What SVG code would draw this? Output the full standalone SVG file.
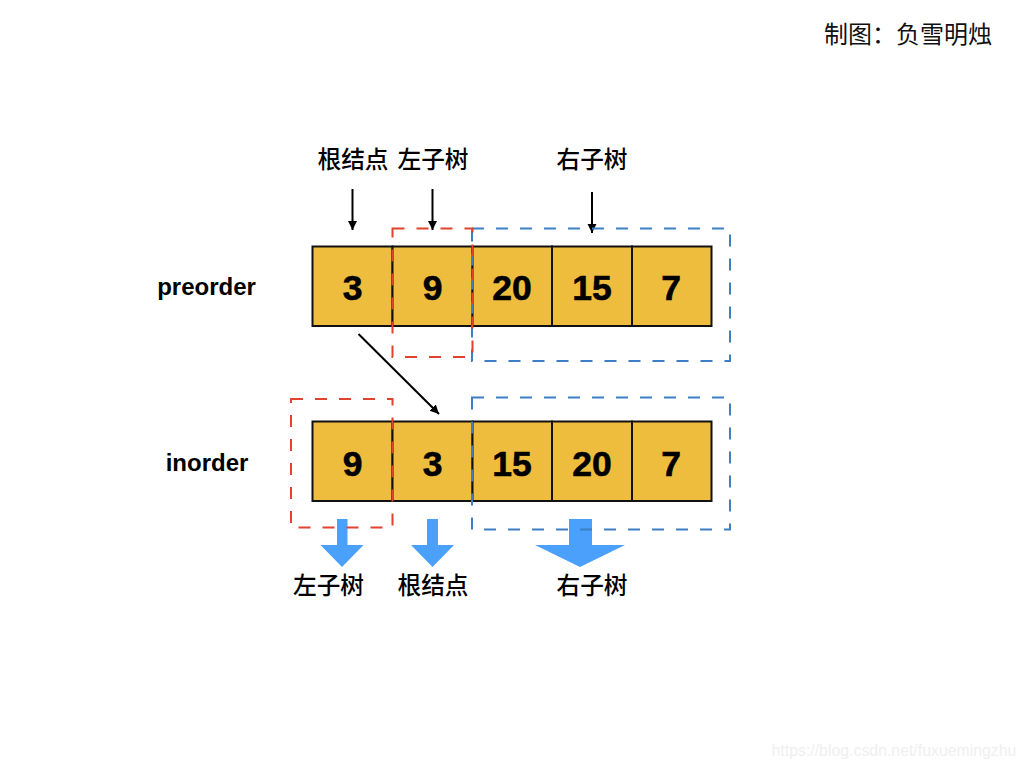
<svg xmlns="http://www.w3.org/2000/svg" width="1024" height="768" viewBox="0 0 1024 768">
<style>
.cell{fill:#eebd3e;stroke:#111;stroke-width:2}
.num{font:bold 35.500px "Liberation Sans",Arial,sans-serif;text-anchor:middle;fill:#000;stroke:#000;stroke-width:.6}
.lab{font:bold 24px "Liberation Sans",Arial,sans-serif;text-anchor:middle;fill:#000}
.cjk{font:500 23.700px "Noto Sans CJK SC","Noto Sans CJK JP",sans-serif;text-anchor:middle;fill:#000}
.red{fill:none;stroke:#e0432f;stroke-width:2;stroke-dasharray:12 12}
.blue{fill:none;stroke:#3d7fc4;stroke-width:2;stroke-dasharray:12 12}
.blk{fill:none;stroke:#000;stroke-width:2;marker-end:url(#ah)}
.fat{fill:#4aa0fb}
</style>
<defs><marker id="ah" markerUnits="userSpaceOnUse" markerWidth="10" markerHeight="10" refX="9" refY="4.5" orient="auto"><path d="M0 0L9 4.5L0 9Z" fill="#000"/></marker></defs>
<rect width="1024" height="768" fill="#fff"/>
<g id="title"><text x="908" y="42.500" style="font:400 24px 'Noto Sans CJK SC','Noto Sans CJK JP',sans-serif;text-anchor:middle;fill:#111">制图：负雪明烛</text></g>
<g id="row-labels"><text class="lab" x="206.500" y="295">preorder</text><text class="lab" x="207" y="471">inorder</text></g>
<g id="top-labels"><text class="cjk" x="353" y="168">根结点</text><text class="cjk" x="433" y="168">左子树</text><text class="cjk" x="592" y="168">右子树</text></g>
<g id="bottom-labels"><text class="cjk" x="328.500" y="594">左子树</text><text class="cjk" x="433" y="594">根结点</text><text class="cjk" x="592" y="594">右子树</text></g>
<g id="preorder">
<rect class="cell" x="312.500" y="246.500" width="80" height="79.500"/><rect class="cell" x="392.500" y="246.500" width="80" height="79.500"/><rect class="cell" x="472.500" y="246.500" width="79.500" height="79.500"/><rect class="cell" x="552" y="246.500" width="80" height="79.500"/><rect class="cell" x="632" y="246.500" width="79.500" height="79.500"/>
<text class="num" x="352.500" y="300">3</text><text class="num" x="432.500" y="300">9</text><text class="num" x="512" y="300">20</text><text class="num" x="592" y="300">15</text><text class="num" x="671" y="300">7</text>
</g>
<g id="inorder">
<rect class="cell" x="312.500" y="421.500" width="80" height="79.500"/><rect class="cell" x="392.500" y="421.500" width="80" height="79.500"/><rect class="cell" x="472.500" y="421.500" width="79.500" height="79.500"/><rect class="cell" x="552" y="421.500" width="80" height="79.500"/><rect class="cell" x="632" y="421.500" width="79.500" height="79.500"/>
<text class="num" x="352.500" y="476">9</text><text class="num" x="432.500" y="476">3</text><text class="num" x="512" y="476">15</text><text class="num" x="592" y="476">20</text><text class="num" x="671" y="476">7</text>
</g>
<g id="fat-arrows">
<path class="fat" d="M337 519H347.500V545H363.500L342 567L320.500 545H337Z"/>
<path class="fat" d="M427 519H438V545H454L432.500 567L411 545H427Z"/>
<path class="fat" d="M569 519H592V545H625L580 567L535 545H569Z"/>
</g>
<g id="connectors">
<path class="blk" d="M352.500 189V230"/>
<path class="blk" d="M432.500 189V230"/>
<path class="blk" d="M592 192V233"/>
<path class="blk" d="M358.500 334L439 414"/>
</g>
<g id="regions">
<rect class="blue" x="472" y="228.500" width="258" height="132.500"/>
<rect class="red" x="392.500" y="228.500" width="80" height="128.500"/>
<rect class="red" x="291" y="399" width="101.500" height="128.500"/>
<rect class="blue" x="472" y="397.500" width="258" height="132"/>
</g>
<g id="watermark"><text x="894" y="756" style="font:15.850px 'Liberation Sans',Arial,sans-serif;text-anchor:middle;fill:#efefef">https://blog.csdn.net/fuxuemingzhu</text></g>
</svg>
